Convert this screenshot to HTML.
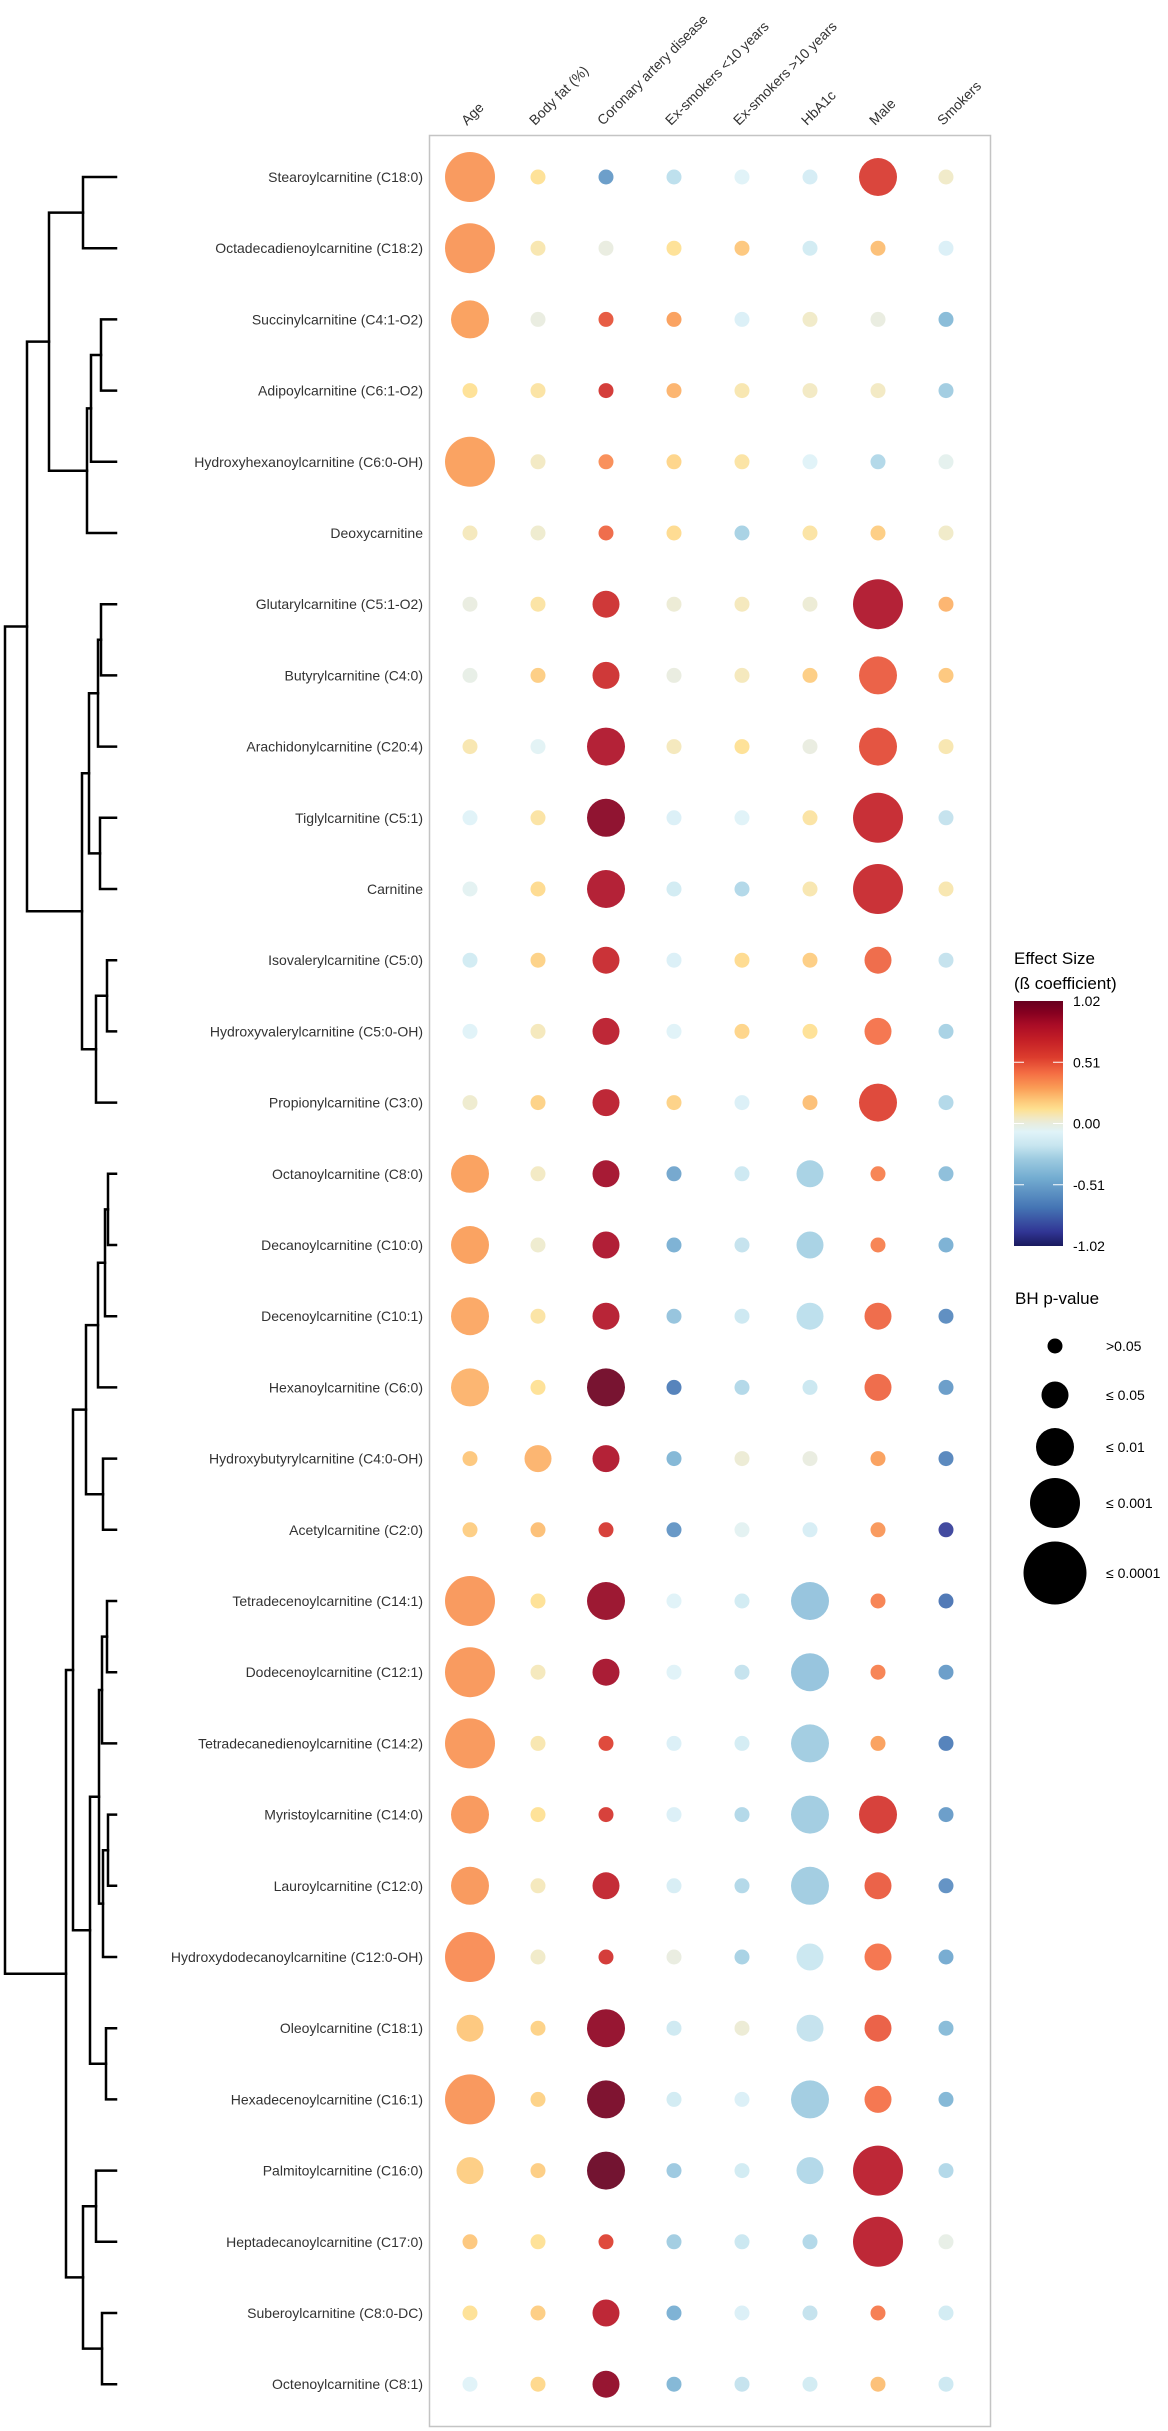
<!DOCTYPE html>
<html><head><meta charset="utf-8"><style>
html,body{margin:0;padding:0;background:#fff;}
svg{display:block;font-family:"Liberation Sans",sans-serif;}
</style></head><body>
<svg id="chart" width="1168" height="2431" viewBox="0 0 1168 2431" xmlns="http://www.w3.org/2000/svg">
<rect x="0" y="0" width="1168" height="2431" fill="#fff"/>
<rect x="429.5" y="135.5" width="561" height="2291" fill="none" stroke="#c4c4c4" stroke-width="1.5"/>
<g id="dendro" stroke="#000" stroke-width="2.5" fill="none" stroke-linecap="square"></g>
<g id="rowlabels"></g>
<g id="collabels"></g>
<g id="dots"></g>
<g id="legend"></g>
</svg>
<script>
const metabolites=["Stearoylcarnitine (C18:0)","Octadecadienoylcarnitine (C18:2)","Succinylcarnitine (C4:1-O2)","Adipoylcarnitine (C6:1-O2)","Hydroxyhexanoylcarnitine (C6:0-OH)","Deoxycarnitine","Glutarylcarnitine (C5:1-O2)","Butyrylcarnitine (C4:0)","Arachidonylcarnitine (C20:4)","Tiglylcarnitine (C5:1)","Carnitine","Isovalerylcarnitine (C5:0)","Hydroxyvalerylcarnitine (C5:0-OH)","Propionylcarnitine (C3:0)","Octanoylcarnitine (C8:0)","Decanoylcarnitine (C10:0)","Decenoylcarnitine (C10:1)","Hexanoylcarnitine (C6:0)","Hydroxybutyrylcarnitine (C4:0-OH)","Acetylcarnitine (C2:0)","Tetradecenoylcarnitine (C14:1)","Dodecenoylcarnitine (C12:1)","Tetradecanedienoylcarnitine (C14:2)","Myristoylcarnitine (C14:0)","Lauroylcarnitine (C12:0)","Hydroxydodecanoylcarnitine (C12:0-OH)","Oleoylcarnitine (C18:1)","Hexadecenoylcarnitine (C16:1)","Palmitoylcarnitine (C16:0)","Heptadecanoylcarnitine (C17:0)","Suberoylcarnitine (C8:0-DC)","Octenoylcarnitine (C8:1)"];
const covariates=["Age","Body fat (%)","Coronary artery disease","Ex-smokers <10 years","Ex-smokers >10 years","HbA1c","Male","Smokers"];
// effect sizes per covariate (rows follow metabolites order)
const betaAge=[0.32,0.32,0.3,0.12,0.3,0.06,0.0,-0.02,0.08,-0.08,-0.05,-0.15,-0.08,0.03,0.3,0.3,0.28,0.25,0.2,0.18,0.32,0.32,0.32,0.32,0.32,0.35,0.2,0.33,0.18,0.2,0.12,-0.08];
const betaBodyFat=[0.12,0.08,0.0,0.1,0.05,0.03,0.1,0.18,-0.06,0.1,0.14,0.17,0.06,0.17,0.05,0.03,0.1,0.12,0.25,0.22,0.12,0.06,0.08,0.12,0.06,0.04,0.17,0.17,0.18,0.12,0.18,0.15];
const betaCAD=[-0.55,0.0,0.5,0.62,0.35,0.45,0.65,0.65,0.8,0.92,0.8,0.68,0.75,0.75,0.85,0.82,0.78,1.0,0.8,0.6,0.88,0.84,0.55,0.6,0.72,0.62,0.9,0.98,1.02,0.55,0.75,0.9];
const betaExLt10=[-0.22,0.12,0.3,0.25,0.16,0.14,0.02,0.0,0.06,-0.1,-0.15,-0.1,-0.08,0.17,-0.5,-0.45,-0.35,-0.68,-0.42,-0.58,-0.08,-0.08,-0.1,-0.1,-0.12,0.0,-0.16,-0.15,-0.32,-0.3,-0.45,-0.42];
const betaExGt10=[-0.08,0.2,-0.1,0.08,0.1,-0.28,0.06,0.06,0.12,-0.08,-0.25,0.14,0.16,-0.1,-0.17,-0.2,-0.17,-0.25,0.02,-0.05,-0.15,-0.2,-0.14,-0.25,-0.25,-0.28,0.02,-0.1,-0.15,-0.18,-0.1,-0.2];
const betaHbA1c=[-0.13,-0.15,0.04,0.05,-0.08,0.1,0.02,0.18,0.0,0.1,0.08,0.18,0.12,0.22,-0.28,-0.28,-0.22,-0.18,0.0,-0.12,-0.35,-0.35,-0.3,-0.3,-0.3,-0.18,-0.2,-0.3,-0.25,-0.25,-0.2,-0.15];
const betaMale=[0.58,0.22,0.0,0.05,-0.25,0.18,0.8,0.48,0.52,0.7,0.68,0.45,0.42,0.55,0.38,0.38,0.45,0.45,0.3,0.32,0.38,0.38,0.3,0.6,0.48,0.42,0.48,0.42,0.75,0.75,0.4,0.22];
const betaSmokers=[0.04,-0.1,-0.4,-0.3,-0.04,0.04,0.25,0.2,0.08,-0.2,0.08,-0.2,-0.28,-0.25,-0.38,-0.45,-0.62,-0.55,-0.65,-0.88,-0.72,-0.55,-0.68,-0.55,-0.6,-0.48,-0.4,-0.42,-0.25,-0.02,-0.15,-0.17];
// p-value class (1:>0.05, 2:<=0.05, 3:<=0.01, 4:<=0.001)
const pAge=[4,4,3,1,4,1,1,1,1,1,1,1,1,1,3,3,3,3,1,1,4,4,4,3,3,4,2,4,2,1,1,1];
const pBodyFat=[1,1,1,1,1,1,1,1,1,1,1,1,1,1,1,1,1,1,2,1,1,1,1,1,1,1,1,1,1,1,1,1];
const pCAD=[1,1,1,1,1,1,2,2,3,3,3,2,2,2,2,2,2,3,2,1,3,2,1,1,2,1,3,3,3,1,2,2];
const pExLt10=[1,1,1,1,1,1,1,1,1,1,1,1,1,1,1,1,1,1,1,1,1,1,1,1,1,1,1,1,1,1,1,1];
const pExGt10=[1,1,1,1,1,1,1,1,1,1,1,1,1,1,1,1,1,1,1,1,1,1,1,1,1,1,1,1,1,1,1,1];
const pHbA1c=[1,1,1,1,1,1,1,1,1,1,1,1,1,1,2,2,2,1,1,1,3,3,3,3,3,2,2,3,2,1,1,1];
const pMale=[3,1,1,1,1,1,4,3,3,4,4,2,2,3,1,1,2,2,1,1,1,1,1,3,2,2,2,2,4,4,1,1];
const pSmokers=[1,1,1,1,1,1,1,1,1,1,1,1,1,1,1,1,1,1,1,1,1,1,1,1,1,1,1,1,1,1,1,1];
const legendLabels=[">0.05","\u2264 0.05","\u2264 0.01","\u2264 0.001","\u2264 0.0001"];
const colorTicks=[1.02,0.51,0.00,-0.51,-1.02];

const betas=[betaAge,betaBodyFat,betaCAD,betaExLt10,betaExGt10,betaHbA1c,betaMale,betaSmokers];
const pvals=[pAge,pBodyFat,pCAD,pExLt10,pExGt10,pHbA1c,pMale,pSmokers];
const NS="http://www.w3.org/2000/svg";
const diam=[0,15,27,38,50,63];
const xCol=i=>470+i*68;
const yRow=i=>177+i*71.2;
const stops=[[-1.02,[26,26,94]],[-0.9,[49,54,149]],[-0.7,[69,117,180]],[-0.45,[116,173,209]],[-0.3,[156,202,224]],[-0.18,[200,230,240]],[-0.07,[224,243,248]],[0,[232,236,222]],[0.05,[242,232,192]],[0.12,[254,224,144]],[0.2,[253,196,118]],[0.3,[250,155,85]],[0.42,[244,109,67]],[0.55,[220,60,45]],[0.7,[195,30,38]],[0.82,[170,12,38]],[0.92,[135,0,32]],[1.02,[103,0,31]]];
function col(v){
  if(v<=stops[0][0])return `rgb(${stops[0][1]})`;
  for(let i=1;i<stops.length;i++){if(v<=stops[i][0]){const a=stops[i-1],b=stops[i],t=(v-a[0])/(b[0]-a[0]);
    return `rgb(${a[1].map((c,k)=>Math.round(c+(b[1][k]-c)*t)).join(',')})`;}}
  return `rgb(${stops[stops.length-1][1]})`;
}
function mk(tag,attrs,parent){const e=document.createElementNS(NS,tag);for(const k in attrs)e.setAttribute(k,attrs[k]);parent.appendChild(e);return e;}

// row labels
const rl=document.getElementById('rowlabels');
metabolites.forEach((m,i)=>{
  const t=mk('text',{x:423,y:yRow(i)+5,'text-anchor':'end','font-size':'14',fill:'#333'},rl);
  
  
  t.textContent=m;
});
// column labels
const cl=document.getElementById('collabels');
covariates.forEach((c,i)=>{
  const x=xCol(i)-3,y=126;
  const t=mk('text',{x:x,y:y,transform:`rotate(-45 ${x} ${y})`,'font-size':'14',fill:'#333'},cl);
  
  
  t.textContent=c;
});
// dots
const dg=document.getElementById('dots');
betas.forEach((arr,j)=>{arr.forEach((v,i)=>{
  const c=mk('circle',{cx:xCol(j),cy:yRow(i),r:diam[pvals[j][i]]/2,fill:col(v),'fill-opacity':'0.92'},dg);
  
  
});});

// dendrogram
const dd=document.getElementById('dendro');
const LEAF=116;
function node(x,a,b){return {x:x,a:a,b:b};}
const T=node(5,
  node(27,
    node(49,node(83,0,1),node(87,node(91,node(101,2,3),4),5)),
    node(82,node(89,node(98,node(101,6,7),8),node(100,9,10)),node(96,node(107,11,12),13))),
  node(66,
    node(73,node(86,node(98,node(105,node(108,14,15),16),17),node(103,18,19)),
      node(90,node(99,node(102,node(107,20,21),22),node(103,node(108,23,24),25)),node(106,26,27))),
    node(83,node(96,28,29),node(102,30,31))));
function draw(n){
  if(typeof n==='number')return {x:LEAF,y:yRow(n)};
  const A=draw(n.a),B=draw(n.b);
  const p=mk('path',{d:`M${A.x},${A.y}H${n.x}V${B.y}H${B.x}`},dd);
  
  
  return {x:n.x,y:(A.y+B.y)/2};
}
draw(T);

// legend
const lg=document.getElementById('legend');
let t=mk('text',{x:1014,y:964,'font-size':'17',fill:'#000'},lg);t.textContent='Effect Size';


t=mk('text',{x:1014,y:989,'font-size':'17',fill:'#000'},lg);t.textContent='(\u00df coefficient)';


const defs=mk('defs',{},lg);
const gr=mk('linearGradient',{id:'cg',x1:0,y1:1,x2:0,y2:0},defs);
stops.forEach(s=>mk('stop',{offset:((s[0]+1.02)/2.04).toFixed(3),'stop-color':`rgb(${s[1]})`},gr));
const cbTop=1001,cbBot=1246,cbX=1014,cbW=49;
const cb=mk('rect',{x:cbX,y:cbTop,width:cbW,height:cbBot-cbTop,fill:'url(#cg)'},lg);


const yC=v=>cbBot-(v+1.02)/2.04*(cbBot-cbTop);
colorTicks.forEach(v=>{
  const y=yC(v);
  if(Math.abs(v)<1){mk('line',{x1:cbX,x2:cbX+10,y1:y,y2:y,stroke:'#fff','stroke-width':1},lg);mk('line',{x1:cbX+cbW-10,x2:cbX+cbW,y1:y,y2:y,stroke:'#fff','stroke-width':1},lg);}
  const tt=mk('text',{x:1073,y:y+5,'font-size':'14',fill:'#000'},lg);tt.textContent=v.toFixed(2);
  
  
});
t=mk('text',{x:1015,y:1304,'font-size':'17',fill:'#000'},lg);t.textContent='BH p-value';


const ly=[1346,1395,1447,1503,1573];
legendLabels.forEach((l,i)=>{
  const c=mk('circle',{cx:1055,cy:ly[i],r:diam[i+1]/2,fill:'#000'},lg);
  
  
  const tt=mk('text',{x:1106,y:ly[i]+5,'font-size':'14',fill:'#000'},lg);tt.textContent=l;
  
  
});
</script>
</body></html>
